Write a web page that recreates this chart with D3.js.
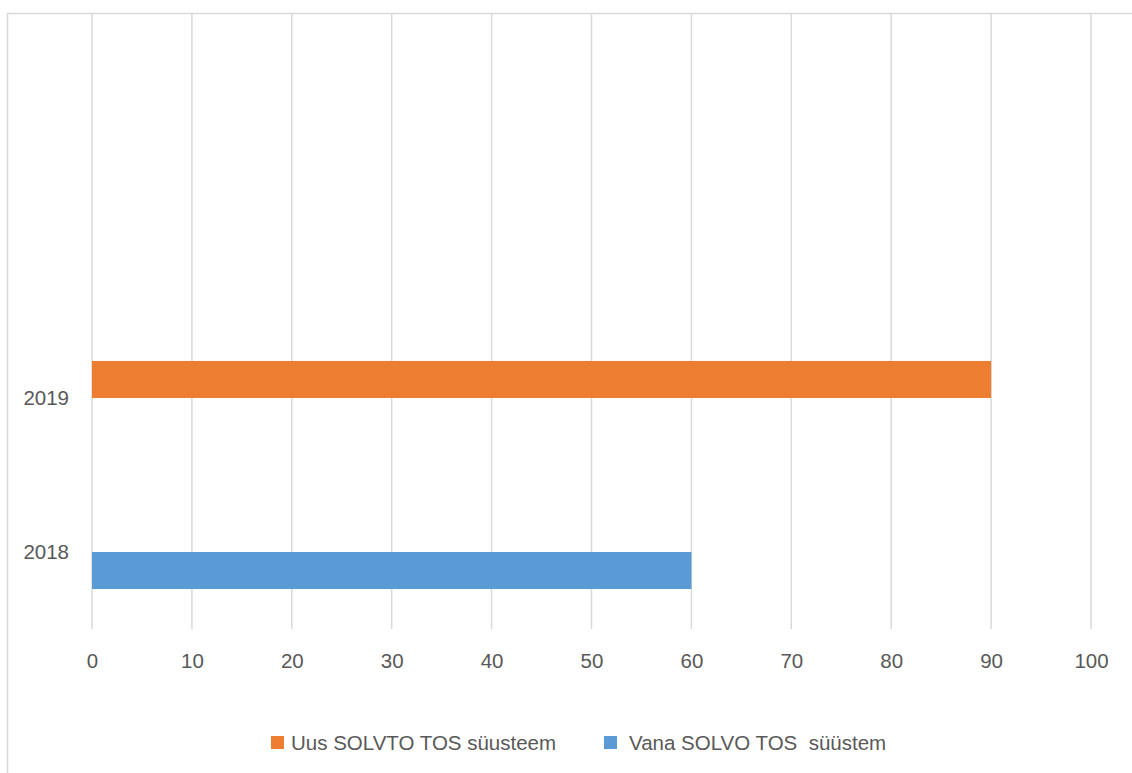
<!DOCTYPE html>
<html>
<head>
<meta charset="utf-8">
<script src="https://cdn.jsdelivr.net/npm/d3@7"></script>
<style>
  html, body { margin: 0; padding: 0; background: #fff; }
  svg text { font-family: "Liberation Sans", Arial, sans-serif; fill: #595959; white-space: pre; }
</style>
</head>
<body>
<svg id="chart" width="1132" height="773"></svg>
<script>
// Categories (top to bottom); two empty slots above 2019 and 2018
const categories = ["blank1", "blank2", "2019", "2018"];
const categoryLabels = ["", "", "2019", "2018"];
const seriesNames = ["Uus SOLVTO TOS süusteem", "Vana SOLVO TOS  süüstem"];
const seriesColors = ["#ED7D31", "#5B9BD5"];
const uusValues = [null, null, 90, null];
const vanaValues = [null, null, null, 60];
const xTicks = [0, 10, 20, 30, 40, 50, 60, 70, 80, 90, 100];

const FONT = 20.5;
const svg = d3.select("#chart");

// outer chart border (only top & left edges visible in the reference)
svg.append("rect")
  .attr("x", 7.5).attr("y", 13.5)
  .attr("width", 1200).attr("height", 900)
  .attr("fill", "none").attr("stroke", "#d9d9d9").attr("stroke-width", 1.5);

const plot = { left: 92, right: 1091, top: 13, bottom: 629 };

const x = d3.scaleLinear().domain([0, 100]).range([plot.left, plot.right]);
const y0 = d3.scaleBand().domain(categories).range([plot.top, plot.bottom]).padding(0);
const y1 = d3.scaleBand().domain(seriesNames).range([0, y0.bandwidth()])
  .paddingInner(0).paddingOuter(1.08);

// gridlines
svg.append("g").selectAll("line").data(xTicks).join("line")
  .attr("x1", d => x(d)).attr("x2", d => x(d))
  .attr("y1", plot.top).attr("y2", plot.bottom)
  .attr("stroke", "#d9d9d9").attr("stroke-width", 1.5);

// bars
const seriesData = [uusValues, vanaValues];
seriesData.forEach((vals, si) => {
  const rows = categories.map((c, i) => ({ c, v: vals[i] })).filter(d => d.v != null);
  svg.append("g").selectAll("rect").data(rows).join("rect")
    .attr("x", x(0))
    .attr("y", d => y0(d.c) + y1(seriesNames[si]))
    .attr("width", d => x(d.v) - x(0))
    .attr("height", y1.bandwidth())
    .attr("fill", seriesColors[si]);
});

// x axis labels
const xAxis = d3.axisBottom(x).tickValues(xTicks).tickSize(0).tickPadding(0).tickFormat(d3.format("d"));
const gx = svg.append("g").attr("transform", `translate(0, 653)`).call(xAxis);
gx.select(".domain").remove();
gx.selectAll("text").attr("font-size", FONT).attr("fill", "#595959")
  .style("font-family", '"Liberation Sans", Arial, sans-serif');

// y axis labels
const yAxis = d3.axisLeft(y0).tickSize(0).tickPadding(0)
  .tickFormat((d, i) => categoryLabels[i]);
const gy = svg.append("g").attr("transform", `translate(69, 0)`).call(yAxis);
gy.select(".domain").remove();
gy.selectAll("text").attr("font-size", FONT).attr("fill", "#595959")
  .style("font-family", '"Liberation Sans", Arial, sans-serif');

// legend
const legendX = [271, 604];
const legend = svg.append("g");
seriesNames.forEach((name, i) => {
  legend.append("rect")
    .attr("x", legendX[i]).attr("y", 736)
    .attr("width", 13).attr("height", 13)
    .attr("fill", seriesColors[i]);
  legend.append("text")
    .attr("x", legendX[i] + (i === 0 ? 20 : 25)).attr("y", 750)
    .attr("font-size", FONT)
    .attr("xml:space", "preserve")
    .text(name);
});
</script>
</body>
</html>
